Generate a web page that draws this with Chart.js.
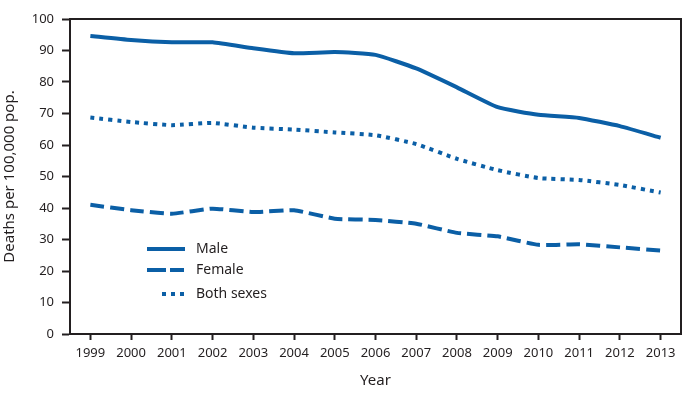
<!DOCTYPE html>
<html>
<head>
<meta charset="utf-8">
<script src="https://cdn.jsdelivr.net/npm/chart.js@4/dist/chart.umd.min.js"></script>
<style>
  html, body { margin: 0; padding: 0; background: #fff; }
  #wrap { width: 695px; height: 399px; position: relative; }
</style>
</head>
<body>
<div id="wrap"><canvas id="myChart"></canvas></div>
<script>
var years = ['1999','2000','2001','2002','2003','2004','2005','2006','2007','2008','2009','2010','2011','2012','2013']
var male = [94.6, 93.3, 92.6, 92.6, 90.7, 89.1, 89.5, 88.6, 84.3, 78.3, 72.0, 69.6, 68.6, 66.0, 62.3]
var female = [41.0, 39.3, 38.2, 39.8, 38.7, 39.3, 36.6, 36.2, 35.0, 32.1, 31.0, 28.3, 28.5, 27.5, 26.5]
var both = [68.7, 67.3, 66.3, 67.0, 65.5, 64.9, 64.0, 63.1, 60.3, 55.6, 52.0, 49.5, 48.9, 47.3, 44.9]
var y_ticks = [0, 10, 20, 30, 40, 50, 60, 70, 80, 90, 100]

var blue = '#0b5fa6'
var ink = '#231f20'
var fam = '"Noto Sans", "Open Sans", sans-serif'

// box round the plot area (top and right sides)
var boxPlugin = {
	id: 'box',
	afterDraw: function(chart) {
		var a = chart.chartArea
		var ctx = chart.ctx
		ctx.save()
		ctx.strokeStyle = ink
		ctx.lineWidth = 2
		ctx.strokeRect(a.left, a.top, a.right - a.left, a.bottom - a.top)
		ctx.restore()
	}
}

// legend inside the plot, drawn from the dataset styles
var innerLegend = {
	id: 'innerLegend',
	afterDatasetsDraw: function(chart) {
		var ctx = chart.ctx
		var rows = [249, 270, 294]
		chart.data.datasets.forEach(function(ds, i) {
			var y = rows[i]
			ctx.save()
			ctx.strokeStyle = ds.borderColor
			ctx.lineWidth = ds.borderWidth
			ctx.setLineDash(ds.legendDash || [])
			ctx.beginPath()
			ctx.moveTo(ds.legendStart || 147, y)
			ctx.lineTo(185, y)
			ctx.stroke()
			ctx.setLineDash([])
			ctx.fillStyle = ink
			ctx.font = '14px ' + fam
			ctx.textBaseline = 'middle'
			ctx.fillText(ds.label, 196, y)
			ctx.restore()
		})
	}
}

document.addEventListener("DOMContentLoaded", function(event) {
	var ctx = document.getElementById('myChart').getContext('2d')
	var myChart = new Chart(ctx, {
		type: 'line',
		data: {
			labels: years,
			datasets: [
			{
				label: 'Male',
				data: male,
				borderColor: blue,
				borderWidth: 4,
				pointRadius: 0,
				tension: 0.15
			},
			{
				label: 'Female',
				data: female,
				borderColor: blue,
				borderWidth: 4,
				borderDash: [14, 6],
				legendDash: [19, 4, 14, 6],
				pointRadius: 0,
				tension: 0.15
			},
			{
				label: 'Both sexes',
				data: both,
				borderColor: blue,
				borderWidth: 4,
				borderDash: [4, 5],
				legendDash: [4, 5],
				legendStart: 162,
				pointRadius: 0,
				tension: 0.15
			}
			]
		},
		plugins: [boxPlugin, innerLegend],
		options: {
			responsive: true,
			maintainAspectRatio: false,
			animation: false,
			layout: { padding: { top: 19, right: 14, left: 0, bottom: 0 } },
			plugins: {
				legend: { display: false },
				tooltip: { enabled: false }
			},
			scales: {
				x: {
					offset: true,
					afterFit: function(scale) { scale.height = 65 },
					grid: {
						offset: false,
						drawOnChartArea: false,
						drawTicks: true,
						tickLength: 6,
						tickWidth: 2,
						tickColor: ink
					},
					border: { color: ink, width: 2 },
					ticks: {
						color: ink,
						padding: 5,
						maxRotation: 0,
						autoSkip: false,
						font: { family: fam, size: 13 }
					},
					title: {
						display: true,
						text: 'Year',
						color: ink,
						padding: { top: 0, bottom: 9 },
						font: { family: fam, size: 15 }
					}
				},
				y: {
					min: 0,
					max: 100,
					afterFit: function(scale) { scale.width = 70 },
					afterBuildTicks: function(scale) {
						scale.ticks = y_ticks.map(function(v) { return { value: v } })
					},
					grid: {
						drawOnChartArea: false,
						drawTicks: true,
						tickLength: 8,
						tickWidth: 2,
						tickColor: ink
					},
					border: { color: ink, width: 2 },
					ticks: {
						color: ink,
						padding: 8,
						font: { family: fam, size: 13 }
					},
					title: {
						display: true,
						text: 'Deaths per 100,000 pop.',
						color: ink,
						padding: { top: 1, bottom: 0 },
						font: { family: fam, size: 15 }
					}
				}
			}
		}
	});
});
</script>
</body>
</html>
